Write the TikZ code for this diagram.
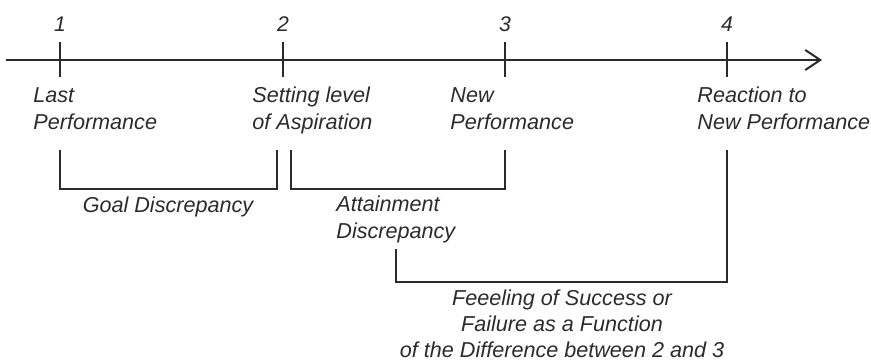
\documentclass[tikz,border=0pt]{standalone}
\usepackage{fontspec}
\setmainfont{Liberation Sans}
\usepackage{xcolor}
\usetikzlibrary{arrows.meta, positioning}
\definecolor{inkgray}{HTML}{2B2B2B}

\begin{document}
\begin{tikzpicture}[
    x=0.5pt, y=-0.5pt,
    node distance=4pt,
    every node/.style={text=inkgray, inner sep=0pt},
    num/.style={font=\fontsize{10.6}{13}\selectfont\itshape, anchor=base},
    stage/.style={font=\fontsize{10.8}{13.4}\selectfont\itshape, align=left, anchor=base west},
    note/.style={font=\fontsize{10.8}{13}\selectfont\itshape, align=center, anchor=base},
    axis/.style={-{Straight Barb[length=7.5pt, width=10pt, line width=1pt]}, line width=1pt, draw=inkgray},
    tick/.style={line width=1pt, draw=inkgray},
    bracket/.style={line width=0.85pt, draw=inkgray}
]
\useasboundingbox (0,0) rectangle (871,360);

% time axis
\coordinate (start) at (6,60);
\coordinate (end) at (822,60);
\draw[axis] (start) -- (end);

% the four moments (labels hang from their last baseline)
\foreach \i/\x in {1/60, 2/283, 3/505, 4/727} {
    \coordinate (m\i) at (\x,60);
    \draw[tick] (\x,42) -- (\x,77);
    \node[num] (n\i) at (\x,31) {\i};
}

\node[stage] (last) at (33,129) {Last\\Performance};
\node[stage] (aspire) at (252,129) {Setting level\\of Aspiration};
\node[stage] (newperf) at (450,129) {New\\Performance};
\node[stage] (react) at (697,129) {Reaction to\\New Performance};

% discrepancies
\coordinate (g1) at (60,150);
\coordinate (g2) at (277,150);
\draw[bracket] (g1) |- (g2 |- 0,189) -- (g2);
\node[note] (goal) at (168,212) {Goal Discrepancy};

\coordinate (a1) at (291,150);
\coordinate (a2) at (505,150);
\draw[bracket] (a1) |- (a2 |- 0,189) -- (a2);
\node[stage] (attain) at (336,238) {Attainment\\Discrepancy};

\coordinate (f1) at (396,249);
\coordinate (f2) at (727,150);
\draw[bracket] (f1) |- (f2 |- 0,282) -- (f2);
\node[note] (feel) at (562,357) {Feeeling of Success or\\Failure as a Function\\of the Difference between 2 and 3};
\end{tikzpicture}
\end{document}
